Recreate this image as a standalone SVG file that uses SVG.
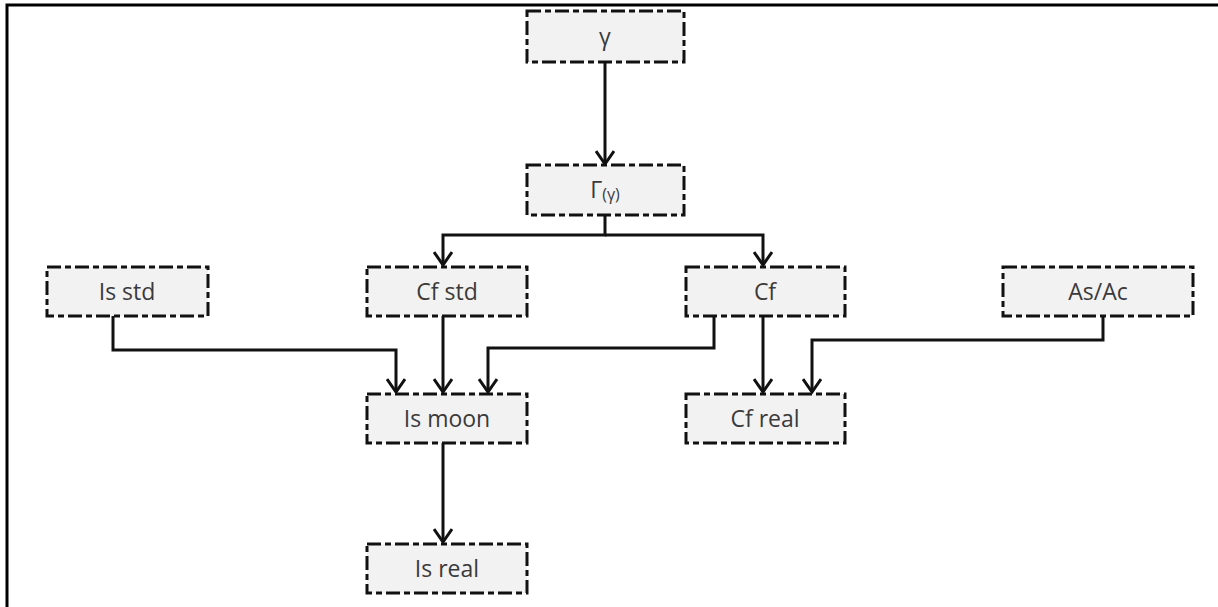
<svg xmlns="http://www.w3.org/2000/svg" width="1218" height="607" viewBox="0 0 1218 607">
<style>
.box{fill:#f2f2f2;stroke:#111;stroke-width:3;stroke-dasharray:14 4 6 4}
.lbl{font-family:"Open Sans","Liberation Sans",sans-serif;font-size:23px;fill:#3a3a3a;text-anchor:middle}
.con{fill:none;stroke:#111;stroke-width:3}
</style>
<defs>
<marker id="arr" viewBox="0 0 20 20" refX="18" refY="10" markerWidth="20" markerHeight="20" markerUnits="userSpaceOnUse" orient="auto">
<path d="M5,1 L18,10 L5,19" fill="none" stroke="#111" stroke-width="3"/>
</marker>
</defs>
<rect width="1218" height="607" fill="#fff"/>
<path d="M7,607 V5 H1218" fill="none" stroke="#000" stroke-width="3"/>
<g id="connectors">
<path class="con" d="M605,62 V164" marker-end="url(#arr)"/>
<path class="con" d="M605,215 V235 H443 V265" marker-end="url(#arr)"/>
<path class="con" d="M605,235 H763 V265" marker-end="url(#arr)"/>
<path class="con" d="M113,316 V350 H396 V392" marker-end="url(#arr)"/>
<path class="con" d="M443,316 V392" marker-end="url(#arr)"/>
<path class="con" d="M714,316 V348 H488 V392" marker-end="url(#arr)"/>
<path class="con" d="M763,316 V392" marker-end="url(#arr)"/>
<path class="con" d="M1103,316 V340 H812 V392" marker-end="url(#arr)"/>
<path class="con" d="M443,443 V542" marker-end="url(#arr)"/>
</g>
<g id="n-gamma"><rect class="box" x="527" y="11" width="157" height="51"/><text class="lbl" x="605" y="45">γ</text></g>
<g id="n-Gamma"><rect class="box" x="527" y="165" width="157" height="50"/><text class="lbl" x="605" y="198">Γ<tspan font-size="16" dy="2">(γ)</tspan></text></g>
<g id="n-isstd"><rect class="box" x="47" y="267" width="161" height="49"/><text class="lbl" x="127" y="300">Is std</text></g>
<g id="n-cfstd"><rect class="box" x="367" y="267" width="160" height="49"/><text class="lbl" x="447" y="300">Cf std</text></g>
<g id="n-cf"><rect class="box" x="686" y="267" width="159" height="49"/><text class="lbl" x="765" y="300">Cf</text></g>
<g id="n-asac"><rect class="box" x="1003" y="267" width="190" height="49"/><text class="lbl" x="1098" y="300">As/Ac</text></g>
<g id="n-ismoon"><rect class="box" x="367" y="394" width="160" height="49"/><text class="lbl" x="447" y="427">Is moon</text></g>
<g id="n-cfreal"><rect class="box" x="686" y="394" width="159" height="49"/><text class="lbl" x="765" y="427">Cf real</text></g>
<g id="n-isreal"><rect class="box" x="367" y="544" width="160" height="49"/><text class="lbl" x="447" y="577">Is real</text></g>
</svg>
